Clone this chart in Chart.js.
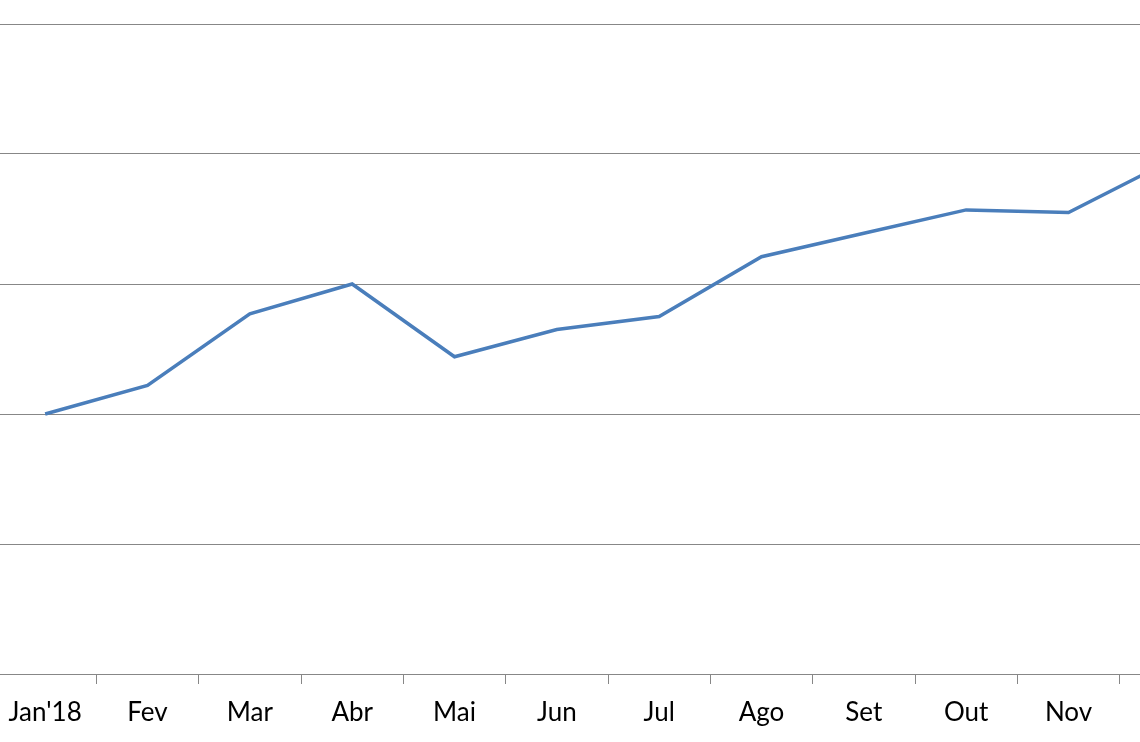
<!DOCTYPE html>
<html>
<head>
<meta charset="utf-8">
<script src="https://cdn.jsdelivr.net/npm/chart.js@4.4.0/dist/chart.umd.min.js"></script>
<style>
  html, body { margin: 0; padding: 0; background: #fff; overflow: hidden; width: 1140px; height: 742px; }
  #wrap { position: absolute; left: -6px; top: 0; width: 1228px; height: 742px; }
</style>
</head>
<body>
<div id="wrap"><canvas id="chart" width="1228" height="742"></canvas></div>
<script>
// months (the last one falls outside the visible area)
const months = ["Jan'18", "Fev", "Mar", "Abr", "Mai", "Jun", "Jul", "Ago", "Set", "Out", "Nov", "Dez"];
const values = [2.0, 2.22, 2.77, 3.0, 2.44, 2.65, 2.75, 3.21, 3.39, 3.57, 3.55, 3.95];
const yMin = 0;
const yMax = 5;
const yStep = 1;

const gridColor = "#878787";

new Chart(document.getElementById("chart"), {
    type: "line",
    data: {
        labels: months,
        datasets: [{
            data: values,
            borderColor: "#4a7ebb",
            borderWidth: 3.5,
            pointRadius: 0,
            tension: 0,
            fill: false,
        }],
    },
    options: {
        responsive: false,
        animation: false,
        layout: { padding: { top: 24, left: 0, right: 0, bottom: 0 } },
        plugins: { legend: { display: false }, tooltip: { enabled: false } },
        scales: {
            x: {
                offset: true,
                grid: { offset: true, drawOnChartArea: false, drawTicks: true, tickLength: 10, color: gridColor },
                border: { color: gridColor, width: 1 },
                ticks: {
                    color: "#000",
                    font: { family: "Lato", size: 26 },
                    padding: 13,
                    maxRotation: 0,
                    autoSkip: false,
                },
                afterFit: (scale) => { scale.height = 68; },
            },
            y: {
                min: yMin,
                max: yMax,
                ticks: { display: false, stepSize: yStep },
                grid: { color: gridColor, drawTicks: false },
                border: { display: false },
                afterFit: (scale) => { scale.width = 0; },
            },
        },
    },
});
</script>
</body>
</html>
